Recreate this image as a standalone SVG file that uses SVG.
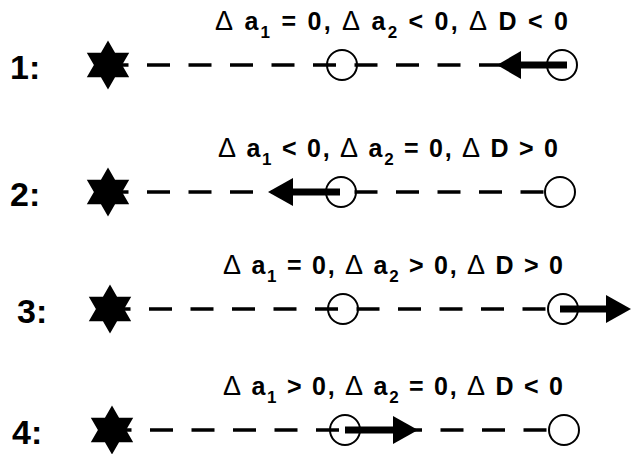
<svg xmlns="http://www.w3.org/2000/svg" width="631" height="454" viewBox="0 0 631 454">
<defs>
<style>
.lbl{font-family:"Liberation Sans",Arial,sans-serif;font-weight:bold;font-size:34px;fill:#000}
.eq{font-family:"Liberation Sans",Arial,sans-serif;font-weight:bold;font-size:25px;fill:#000}
.d{font-weight:normal;font-size:27px}
.sub{font-size:17px}
.dash{stroke:#000;stroke-width:3.5;stroke-dasharray:23 18.5;fill:none}
.body{fill:none;stroke:#000;stroke-width:2}
.shaft{stroke:#000;stroke-width:7}
.head{fill:#000}
.star{fill:#000}
</style>
<polygon id="starShape" class="star" points="0,-24.5 7.05,-12.2 21.2,-12.25 14.1,0 21.2,12.25 7.05,12.2 0,24.5 -7.05,12.2 -21.2,12.25 -14.1,0 -21.2,-12.25 -7.05,-12.2"/>
</defs>
<rect width="631" height="454" fill="#fff"/>

<g id="connectors">
<line class="dash" x1="105.5" y1="65" x2="547" y2="65"/>
<line class="dash" x1="105.5" y1="192" x2="545" y2="192"/>
<line class="dash" x1="107.5" y1="309" x2="548" y2="309"/>
<line class="dash" x1="108.5" y1="430" x2="549" y2="430"/>
</g>

<g id="row1">
<text class="lbl" x="10" y="79">1:</text>
<use href="#starShape" x="108" y="65"/>
<circle class="body" cx="342" cy="65" r="15"/>
<circle class="body" cx="562" cy="65" r="15"/>
<line class="shaft" x1="567" y1="65" x2="515" y2="65"/>
<polygon class="head" points="497,65 521,51 521,79"/>
<text class="eq" x="215" y="30" textLength="353" lengthAdjust="spacing"><tspan class="d">Δ</tspan> a<tspan class="sub" dy="8">1</tspan><tspan dy="-8"> = 0, </tspan><tspan class="d">Δ</tspan> a<tspan class="sub" dy="8">2</tspan><tspan dy="-8"> &lt; 0, </tspan><tspan class="d">Δ</tspan> D &lt; 0</text>
</g>

<g id="row2">
<text class="lbl" x="10" y="206">2:</text>
<use href="#starShape" x="108" y="192"/>
<circle class="body" cx="341" cy="192" r="15"/>
<circle class="body" cx="560" cy="192" r="15"/>
<line class="shaft" x1="340" y1="192" x2="288" y2="192"/>
<polygon class="head" points="268,192 293,178 293,206"/>
<text class="eq" x="218" y="157" textLength="340" lengthAdjust="spacing"><tspan class="d">Δ</tspan> a<tspan class="sub" dy="8">1</tspan><tspan dy="-8"> &lt; 0, </tspan><tspan class="d">Δ</tspan> a<tspan class="sub" dy="8">2</tspan><tspan dy="-8"> = 0, </tspan><tspan class="d">Δ</tspan> D &gt; 0</text>
</g>

<g id="row3">
<text class="lbl" x="17" y="323">3:</text>
<use href="#starShape" x="110" y="309"/>
<circle class="body" cx="343" cy="309" r="15"/>
<circle class="body" cx="563" cy="309" r="15"/>
<line class="shaft" x1="560" y1="309" x2="612" y2="309"/>
<polygon class="head" points="631,309 606,295 606,323"/>
<text class="eq" x="223" y="274" textLength="340" lengthAdjust="spacing"><tspan class="d">Δ</tspan> a<tspan class="sub" dy="8">1</tspan><tspan dy="-8"> = 0, </tspan><tspan class="d">Δ</tspan> a<tspan class="sub" dy="8">2</tspan><tspan dy="-8"> &gt; 0, </tspan><tspan class="d">Δ</tspan> D &gt; 0</text>
</g>

<g id="row4">
<text class="lbl" x="12" y="444">4:</text>
<use href="#starShape" x="112" y="430"/>
<circle class="body" cx="345" cy="430" r="15"/>
<circle class="body" cx="564" cy="430" r="15"/>
<line class="shaft" x1="345" y1="430" x2="398" y2="430"/>
<polygon class="head" points="418,430 393,416 393,444"/>
<text class="eq" x="223" y="395" textLength="340" lengthAdjust="spacing"><tspan class="d">Δ</tspan> a<tspan class="sub" dy="8">1</tspan><tspan dy="-8"> &gt; 0, </tspan><tspan class="d">Δ</tspan> a<tspan class="sub" dy="8">2</tspan><tspan dy="-8"> = 0, </tspan><tspan class="d">Δ</tspan> D &lt; 0</text>
</g>
</svg>
